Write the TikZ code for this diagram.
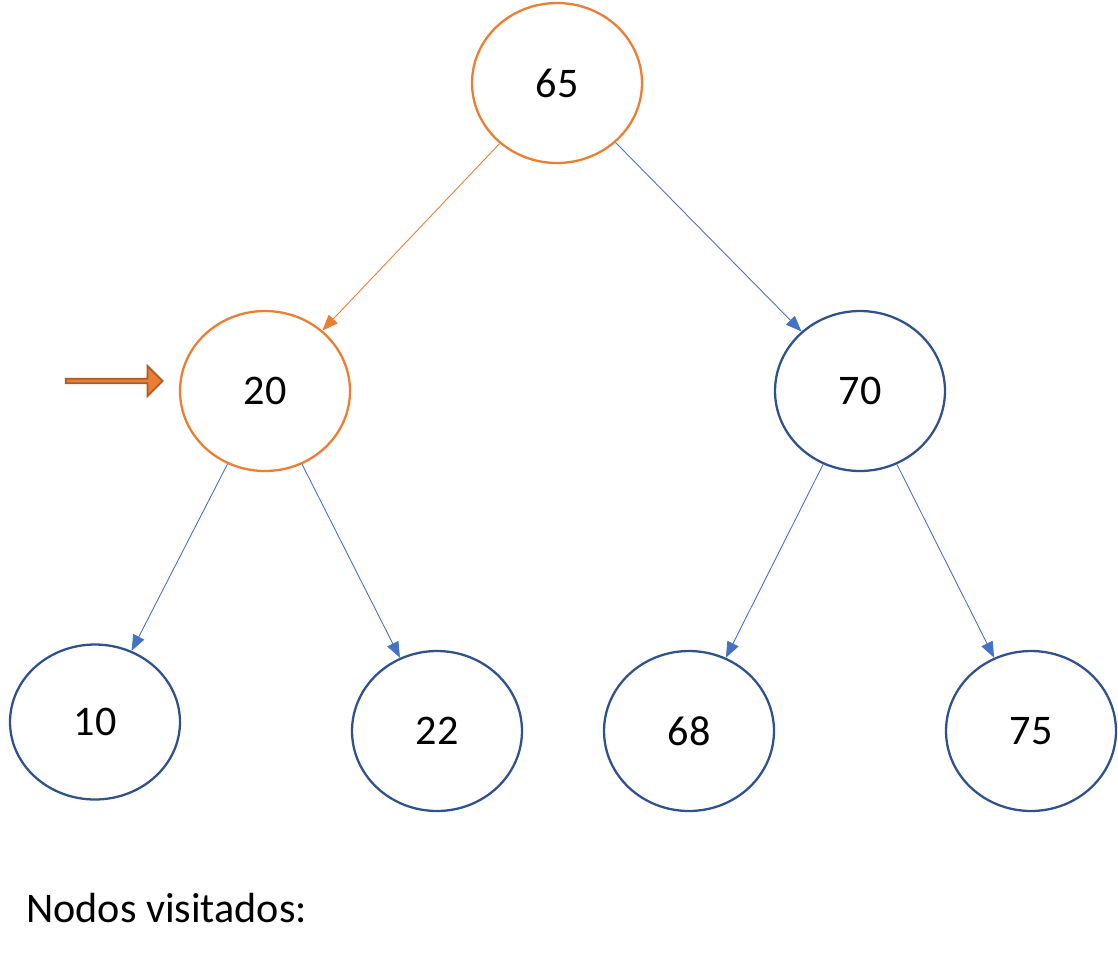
\documentclass[tikz,border=0pt]{standalone}
\usepackage{fontspec}
\setmainfont{Carlito}
\usetikzlibrary{shapes.geometric,shapes.arrows,arrows.meta}
\definecolor{nodeblue}{HTML}{2F528F}
\definecolor{edgeblue}{HTML}{4472C4}
\definecolor{visorange}{HTML}{ED7D31}
\definecolor{darkorange}{HTML}{AE5A21}
\tikzset{
  tnode/.style={ellipse, draw=nodeblue, line width=1.3pt, minimum width=3.4cm, minimum height=3.2cm, font=\fontsize{24}{28}\selectfont},
  visited/.style={draw=visorange},
  edge/.style={draw=edgeblue, line width=0.5pt, -{Triangle[length=9pt,width=7pt]}},
  vedge/.style={edge, draw=visorange}
}
\begin{document}
\begin{tikzpicture}[x=0.02cm,y=-0.02cm]
  \useasboundingbox (0,0) rectangle (1118,960);
  \node[tnode, visited] (n65) at (557,83) {65};
  \node[tnode, visited] (n20) at (265,391) {20};
  \node[tnode] (n70) at (860,391) {70};
  \node[tnode, minimum height=3.1cm] (n10) at (95,722) {10};
  \node[tnode] (n22) at (437,731) {22};
  \node[tnode] (n68) at (689,731) {68};
  \node[tnode] (n75) at (1031,731) {75};
  \draw[vedge] (n65) -- (n20);
  \draw[edge] (n65) -- (n70);
  \draw[edge] (n20) -- (n10);
  \draw[edge] (n20) -- (n22);
  \draw[edge] (n70) -- (n68);
  \draw[edge] (n70) -- (n75);
  % pointer to current node
  \node[single arrow, fill=visorange, draw=darkorange, line width=1pt, minimum width=0.6cm,
        single arrow head extend=0.1cm, single arrow head indent=0cm, minimum height=1.94cm,
        inner sep=0pt] (pointer) at (113,381) {};
  \node[anchor=west, font=\fontsize{24}{28}\selectfont] (label) at (20,908) {Nodos visitados:};
\end{tikzpicture}
\end{document}
